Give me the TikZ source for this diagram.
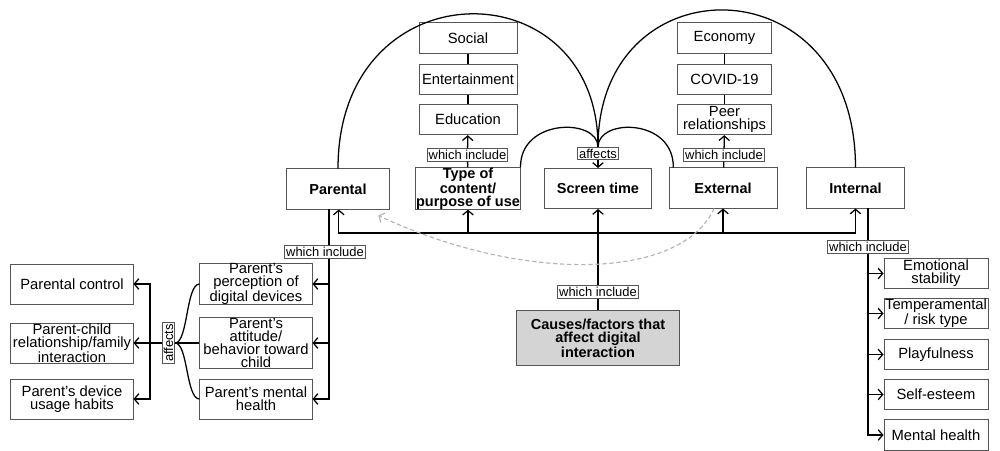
\documentclass[tikz,border=0pt]{standalone}
\usepackage{fontspec}
\setmainfont{Liberation Sans}
\usetikzlibrary{arrows.meta}
\definecolor{boxgray}{RGB}{212,212,212}
\definecolor{framegray}{RGB}{85,85,85}
\tikzset{
  >={Straight Barb[length=3.2pt,width=7.5pt]},
  box/.style={draw=framegray, line width=0.7pt, align=center, inner sep=0pt,
    font=\fontsize{10.5}{9.2}\selectfont},
  head/.style={box, font=\fontsize{10.3}{9.2}\selectfont\bfseries},
  tag/.style={draw=framegray, line width=0.6pt, fill=white, inner sep=1pt,
    font=\fontsize{9.2}{9.2}\selectfont},
}
\begin{document}
\begin{tikzpicture}[x=0.025cm, y=-0.025cm, line width=0.9pt]
\useasboundingbox (0,0) rectangle (1000,451);
% top row
\node[head, minimum width=2.55cm, minimum height=1cm] (parental) at (338,189) {Parental};
\node[head, minimum width=2.6cm, minimum height=1cm] (content) at (468,188.5) {Type of\\content/\\purpose of use};
\node[head, minimum width=2.68cm, minimum height=1cm] (screen) at (598,188.5) {Screen time};
\node[head, minimum width=2.7cm, minimum height=1cm] (external) at (723,188) {External};
\node[head, minimum width=2.43cm, minimum height=1cm] (internal) at (855.5,188) {Internal};
% columns above
\foreach \n/\t/\y in {social/Social/38, fun/Entertainment/79.5, edu/Education/119.5}
  \node[box, minimum width=2.45cm, minimum height=0.76cm] (\n) at (468,\y) {\t};
\foreach \n/\t/\y in {economy/Economy/38, covid/COVID-19/79.5, peer/{Peer\\relationships}/119.5}
  \node[box, minimum width=2.33cm, minimum height=0.76cm] (\n) at (724.5,\y) {\t};
\draw (social) -- (fun);
\draw (fun) -- (edu);
\draw (economy) -- (covid);
\draw (covid) -- (peer);
\node[tag] (incC) at (467.5,155) {which include};
\draw (content) -- (incC);
\draw[->] (incC) -- (edu);
\node[tag] (incE) at (724,155) {which include};
\draw (external) -- (incE);
\draw[->] (incE) -- (peer);
% arcs into screen time
\node[tag] (aff) at (598,153.5) {affects};
\draw[->] (aff) -- (screen);
\draw (parental.north) .. controls (338,-34) and (598,-34) .. (aff.north);
\draw (aff.north) .. controls (598,-39) and (855.5,-39) .. (internal.north);
\draw (content.north east) .. controls (520,118) and (598,118) .. (aff.north);
\draw ([xshift=0.12cm]external.north west) .. controls (674,118) and (598,118) .. (aff.north);
% bus from causes
\node[head, fill=boxgray, minimum width=4.08cm, minimum height=1.35cm] (causes) at (598,338) {Causes/factors that\\affect digital\\interaction};
\node[tag] (incM) at (598,292) {which include};
\draw (causes) -- (incM);
\draw[->] (incM) -- (screen);
\coordinate (bus) at (598,233);
\draw[->] (bus) -| ([xshift=0.02cm]parental.south);
\draw[->] (bus) -| (content.south);
\draw[->] (bus) -| (external.south);
\draw[->] (bus) -| (internal.south);
\draw[->, dashed, dash pattern=on 3pt off 2pt, gray!60, line width=0.8pt]
  ([xshift=-0.22cm]external.south) .. controls (680,282) and (520,282) ..
  ([shift={(-0.28cm,-0.15cm)}]parental.south east);
% parental subtree
\node[box, minimum width=2.8cm, minimum height=1cm] (pchild1) at (256,284) {Parent's\\perception of\\digital devices};
\node[box, minimum width=2.8cm, minimum height=1.25cm] (pchild2) at (256,343) {Parent's\\attitude/\\behavior toward\\child};
\node[box, minimum width=2.8cm, minimum height=1cm] (pchild3) at (256,399) {Parent's mental\\health};
\node[tag] (incP) at (325,252) {which include};
\coordinate (pTop) at ([xshift=-0.225cm]parental.south);
\draw (pTop) -- (pTop |- incP.north);
\foreach \i in {1,2,3}
  \draw[->] (pTop |- incP.south) |- (pchild\i.east);
\node[tag, rotate=90] (affP) at (168.5,343) {affects};
\draw (pchild1.west) .. controls (186,284) and (188,343) .. (affP.south);
\draw (pchild2.west) -- (affP.south);
\draw (pchild3.west) .. controls (186,399) and (188,343) .. (affP.south);
\node[box, minimum width=3.05cm, minimum height=1cm] (lchild1) at (72,284) {Parental control};
\node[box, minimum width=3.05cm, minimum height=1cm] (lchild2) at (72,343) {Parent-child\\relationship/family\\interaction};
\node[box, minimum width=3.05cm, minimum height=1cm] (lchild3) at (72,399) {Parent's device\\usage habits};
\coordinate (lbus) at (150,343);
\draw[->] (affP.north) -- (lchild2.east);
\draw[->] (lbus) |- (lchild1.east);
\draw[->] (lbus) |- (lchild3.east);
% internal subtree
\node[tag] (incI) at (868,247) {which include};
\draw (incI) -- (incI |- internal.south);
\foreach \i/\t/\y in {1/{Emotional\\stability}/273.5, 2/{Temperamental\\/ risk type}/313.5,
    3/Playfulness/354.5, 4/Self-esteem/394.5, 5/Mental health/435} {
  \node[box, minimum width=2.6cm, minimum height=0.77cm] (ichild\i) at (936,\y) {\t};
  \draw[->] (incI.south) |- (ichild\i.west);
}
\end{tikzpicture}
\end{document}
